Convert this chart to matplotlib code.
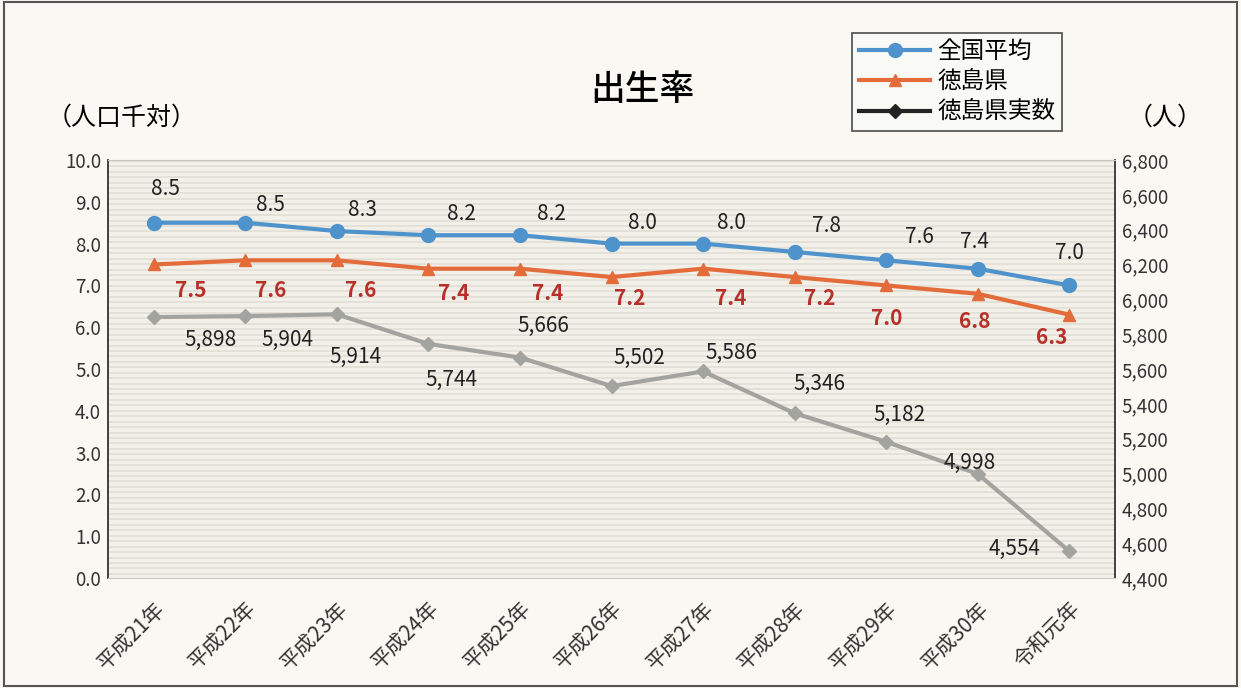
import matplotlib.pyplot as plt
import numpy as np

plt.rcParams['font.family'] = ['Noto Sans CJK JP', 'DejaVu Sans']

years = ['平成21年', '平成22年', '平成23年', '平成24年', '平成25年', '平成26年',
         '平成27年', '平成28年', '平成29年', '平成30年', '令和元年']
national = [8.5, 8.5, 8.3, 8.2, 8.2, 8.0, 8.0, 7.8, 7.6, 7.4, 7.0]
tokushima = [7.5, 7.6, 7.6, 7.4, 7.4, 7.2, 7.4, 7.2, 7.0, 6.8, 6.3]
births = [5898, 5904, 5914, 5744, 5666, 5502, 5586, 5346, 5182, 4998, 4554]

# label offsets in pixels (dx, dy)
nat_off = [(12, 34), (25, 18), (26, 21), (33, 21), (31, 21), (31, 21), (28, 21), (32, 26), (33, 23), (-3, 27), (0, 32)]
tok_off = [(37, -26), (25, -30), (24, -30), (25, -25), (28, -25), (18, -21), (28, -30), (25, -21), (1, -33), (-3, -28), (-18, -23)]
cnt_off = [(57, -23), (42, -24), (19, -43), (23, -36), (23, 32), (28, 28), (28, 18), (25, 29), (13, 27), (-8, 11), (-55, 2)]

blue = '#4F93CC'
orange = '#E36C3A'
gray = '#A3A3A0'
red_txt = '#B8302A'

fig = plt.figure(figsize=(12.41, 6.88), dpi=100, facecolor='#F9F8F3')
ax = fig.add_axes([108 / 1241, 1 - 578 / 688, (1115 - 108) / 1241, (578 - 160) / 688])
ax2 = ax.twinx()

x = np.arange(len(years))

ax.set_xlim(-0.5, len(years) - 0.5)
ax.set_ylim(0, 10)
ax2.set_ylim(4400, 6800)
ax.set_yticks(np.arange(0, 10.01, 1))
ax.set_yticklabels([f'{v:.1f}' for v in np.arange(0, 10.01, 1)])
ax2.set_yticks(np.arange(4400, 6801, 200))
ax2.set_yticklabels([f'{v:,}' for v in range(4400, 6801, 200)])
ax.set_xticks(x)
ax.set_xticklabels(years, rotation=45, ha='right', va='top', rotation_mode='anchor', fontsize=15)
for a in (ax, ax2):
    a.tick_params(length=0, labelsize=13.5, colors='#333333', pad=5)
ax.tick_params(axis='x', labelsize=15, pad=14)

for s in ('top', 'bottom'):
    ax.spines[s].set_color('#C8C6BE')
    ax2.spines[s].set_visible(False)
ax2.spines['left'].set_visible(False)
ax.spines['right'].set_visible(False)
ax.spines['left'].set_color('#333333')
ax2.spines['right'].set_color('#333333')
ax2.spines['right'].set_linewidth(1.3)
ax.spines['left'].set_linewidth(1.3)

# striped plot area drawn on the back axes
ax.set_zorder(ax2.get_zorder() + 1)
ax.patch.set_visible(False)
ax2.set_facecolor('#F2F0E8')
ax2.patch.set_visible(True)
for yy in np.arange(4424, 6800, 31.2):
    ax2.axhline(yy, color='#E2DFD6', lw=1.2, zorder=0)

l3, = ax2.plot(x, births, color=gray, lw=3, marker='D', ms=7, zorder=3)
l1, = ax.plot(x, national, color=blue, lw=3, marker='o', ms=10, zorder=4)
l2, = ax.plot(x, tokushima, color=orange, lw=3, marker='^', ms=9, zorder=4)

for i in range(len(x)):
    ax.annotate(f'{national[i]:.1f}', (x[i], national[i]), xytext=(nat_off[i][0] * 0.72, nat_off[i][1] * 0.72),
                textcoords='offset points', ha='center', va='center', fontsize=15, color='#222222')
    ax.annotate(f'{tokushima[i]:.1f}', (x[i], tokushima[i]), xytext=(tok_off[i][0] * 0.72, tok_off[i][1] * 0.72),
                textcoords='offset points', ha='center', va='center', fontsize=15, color=red_txt, fontweight='bold')
    ax2.annotate(f'{births[i]:,}', (x[i], births[i]), xytext=(cnt_off[i][0] * 0.72, cnt_off[i][1] * 0.72),
                 textcoords='offset points', ha='center', va='center', fontsize=15, color='#222222')

fig.text(642 / 1241, 1 - 90 / 688, '出生率', ha='center', va='center', fontsize=25, fontweight='medium')
fig.text(122 / 1241, 1 - 118 / 688, '（人口千対）', ha='center', va='center', fontsize=18)
fig.text(1165 / 1241, 1 - 118 / 688, '（人）', ha='center', va='center', fontsize=18)

h3, = ax2.plot([], [], color='#222222', lw=3, marker='D', ms=7)
leg = fig.legend([l1, l2, h3], ['全国平均', '徳島県', '徳島県実数'], loc='upper left',
                 bbox_to_anchor=(852 / 1241, 1 - 33 / 688), fontsize=17, frameon=True,
                 fancybox=False, edgecolor='#333333', facecolor='#FAFAF6', handlelength=3.0,
                 borderpad=0.3, labelspacing=0.32, handletextpad=0.3, borderaxespad=0)
leg.get_frame().set_linewidth(1.3)

fig.patches.append(plt.Rectangle((0.003, 0.003), 0.994, 0.994, transform=fig.transFigure,
                                 fill=False, edgecolor='#555555', lw=1.5))

fig.savefig('out.png', dpi=100, facecolor=fig.get_facecolor())
